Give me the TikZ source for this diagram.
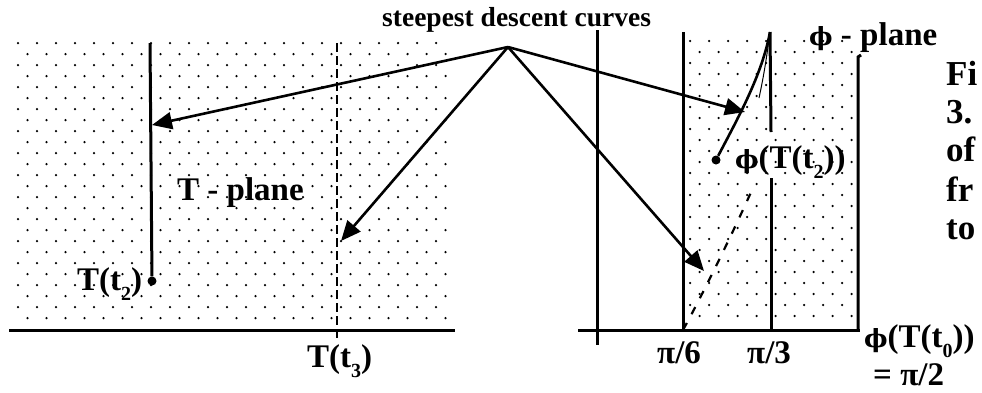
\documentclass[tikz,border=0pt]{standalone}
\usepackage{fontspec}
\setmainfont{Liberation Serif}
\newfontfamily\phif{DejaVu Serif}
\usetikzlibrary{arrows.meta}
\newcommand\lowsub[1]{\raisebox{-0.32em}{\fontsize{20}{20}\selectfont #1}}
\newcommand\ph{{\phif\fontsize{25}{25}\selectfont ϕ}}
\begin{document}
\begin{tikzpicture}[x=1pt,y=-1pt,
  lbl/.style={font=\fontsize{33}{33}\selectfont\bfseries, inner sep=0pt, anchor=base west},
  side/.style={font=\fontsize{35}{35}\selectfont\bfseries, inner sep=0pt, anchor=base west},
  ttl/.style={font=\fontsize{27.5}{27.5}\selectfont\bfseries, inner sep=0pt, anchor=base west},
  thick line/.style={line width=3pt},
  arr/.style={line width=2.6pt, -{Triangle[length=20pt,width=17pt]}},
  dotn/.style={circle, fill, inner sep=0pt, minimum size=9pt},
  pt/.style={fill=black}]
\useasboundingbox (0,0) rectangle (982,392);
% dotted backgrounds
\foreach \i in {0,...,25}{
  \pgfmathsetmacro\yy{43+11*\i}
  \pgfmathsetmacro\xo{mod(\i,2)*9.5}
  \foreach \j in {0,...,22}{ \fill[pt] ({18+\xo+19*\j},\yy) circle[radius=1.25]; }
  \foreach \j in {0,...,8}{ \fill[pt] ({690+\xo+19*\j},{\yy-2}) circle[radius=1.25]; }
}
% coordinates
\coordinate (apex) at (508,47);
\coordinate (lAxL) at (9,330);   \coordinate (lAxR) at (455,330);
\coordinate (rAxL) at (578,330); \coordinate (rAxR) at (860,330);
\coordinate (lvTop) at (150,43);
\coordinate (dashTop) at (337,43); \coordinate (dashBot) at (337,338);
\coordinate (v1t) at (597,30); \coordinate (v1b) at (597,345);
\coordinate (v2t) at (683,32); \coordinate (v2b) at (683,330);
\coordinate (peak) at (770,32);
\coordinate (v3a) at (771,132); \coordinate (v3b) at (771,178); \coordinate (v3c) at (771,330);
\coordinate (v4t) at (858,57); \coordinate (v4b) at (858,330); \coordinate (hook) at (861,55);
\coordinate (tip1) at (152,125);
\coordinate (tip2) at (341,241);
\coordinate (tip3) at (704,271);
\coordinate (tip4) at (745,112);
\coordinate (dashEnd) at (752,190);
% axes and lines
\draw[thick line] (lAxL) -- (lAxR);
\draw[thick line] (rAxL) -- (rAxR);
\node[dotn] (t2) at (152,281) {};
\draw[thick line] (lvTop) -- (t2);
\draw[line width=2.6pt, dash pattern=on 9pt off 4pt] (dashTop) -- (dashBot);
\draw[thick line] (v1t) -- (v1b);
\draw[thick line] (v2t) -- (v2b);
\draw[thick line] (peak) -- (v3a);
\draw[thick line] (v3b) -- (v3c);
\draw[thick line] (hook) -- (v4t) -- (v4b);
% phi-plane curve
\node[dotn] (pt2) at (716,160) {};
\draw[line width=2.6pt] (pt2) .. controls (738,118) and (762,75) .. (peak);
\draw[line width=1pt] (peak) .. controls (767,55) and (764,75) .. (759,98);
\draw[line width=2.2pt, dash pattern=on 8pt off 10pt] (v2b) .. controls (705,290) and (735,228) .. (dashEnd);
% arrows
\draw[arr] (apex) -- (tip1);
\draw[arr] (apex) -- (tip2);
\draw[arr] (apex) -- (tip3);
\draw[arr] (apex) -- (tip4);
% labels
\node[ttl] (title) at (382,26) {steepest descent curves};
\node[lbl] (tplane) at (177,200) {T - plane};
\node[lbl] (lt2) at (77,290) {T(t\lowsub{2})};
\node[lbl] (lt3) at (307,367) {T(t\lowsub{3})};
\node[lbl] (lphi2) at (735,168) {\ph(T(t\lowsub{2}))};
\node[lbl] (lphip) at (809,45) {\ph{} - plane};
\node[lbl] (lpi6) at (657,363) {π/6};
\node[lbl] (lpi3) at (747,363) {π/3};
\node[lbl] (lphi0) at (864,347) {\ph(T(t\lowsub{0}))};
\node[lbl] (lpi2) at (873,385) {= π/2};
\node[side] (s1) at (946,85) {Fi};
\node[side] (s2) at (946,123) {3.};
\node[side] (s3) at (946,161) {of};
\node[side] (s4) at (946,201) {fr};
\node[side] (s5) at (946,239) {to};
\end{tikzpicture}
\end{document}
